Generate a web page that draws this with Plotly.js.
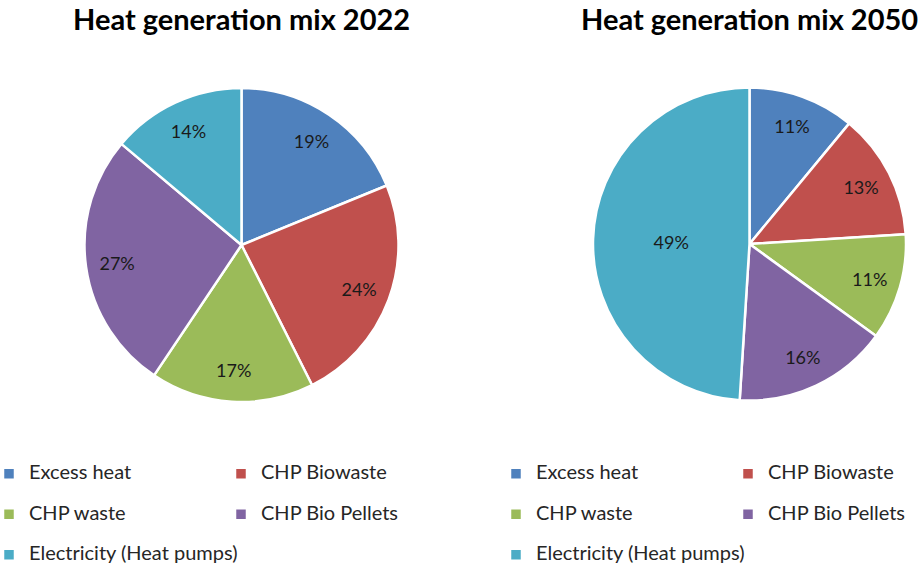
<!DOCTYPE html>
<html>
<head>
<meta charset="utf-8">
<script src="https://cdn.plot.ly/plotly-3.0.1.min.js"></script>
<style>html,body{margin:0;padding:0;background:#fff;}#chart{width:920px;height:568px;}</style>
</head>
<body>
<div id="chart"></div>
<script>
// ---- data ----
var categories = ["Excess heat", "CHP Biowaste", "CHP waste", "CHP Bio Pellets", "Electricity (Heat pumps)"];
var values2022 = [19, 24, 17, 27, 14];
var values2050 = [11, 13, 11, 16, 49];
var titles = ["Heat generation mix 2022", "Heat generation mix 2050"];
var colors = ["#4F81BD", "#C0504D", "#9BBB59", "#8064A2", "#4BACC6"];

var W = 920, H = 568;
var FONT = "Lato, 'Open Sans', sans-serif";
var PCT = "%{percent:.0%}";
// legend entries: bigger visible text, second blank line gives the row spacing
var legendLabels = categories.map(function (c) {
  return "<span style='font-size:20px'>" + c + "</span><br> ";
});

// label placement per slice: "ring" = outer ring (about 0.8 r), "core" = slice centre
var placement2022 = ["ring", "ring", "ring", "ring", "ring"];
var placement2050 = ["ring", "ring", "ring", "ring", "core"];

function pieTraces(values, placement, xd, yd, legendId, group) {
  var base = {
    type: "pie",
    labels: legendLabels,
    values: values,
    sort: false,
    direction: "clockwise",
    rotation: 0,
    domain: { x: xd, y: yd },
    marker: { colors: colors, line: { color: "#ffffff", width: 2.5 } },
    texttemplate: placement.map(function (p) { return p === "core" ? PCT : ""; }),
    textposition: "inside",
    insidetextorientation: "horizontal",
    textfont: { family: FONT, size: 18, color: "#1a1a1a" },
    hoverinfo: "label+percent",
    automargin: false,
    legend: legendId,
    legendgroup: group
  };
  // transparent ring carrying the outer labels
  var ring = {
    type: "pie",
    labels: legendLabels,
    values: values,
    sort: false,
    direction: "clockwise",
    rotation: 0,
    hole: 0.6,
    domain: { x: xd, y: yd },
    marker: { colors: colors.map(function () { return "rgba(0,0,0,0)"; }), line: { width: 0 } },
    texttemplate: placement.map(function (p) { return p === "ring" ? PCT : ""; }),
    textposition: "inside",
    insidetextorientation: "horizontal",
    textfont: { family: FONT, size: 18, color: "#1a1a1a" },
    hoverinfo: "skip",
    automargin: false,
    showlegend: false,
    legend: legendId,
    legendgroup: group + "r"
  };
  return [base, ring];
}

var data = []
  .concat(pieTraces(values2022, placement2022, [84 / W, 399 / W], [1 - 402 / H, 1 - 88 / H], "legend", "g2022"))
  .concat(pieTraces(values2050, placement2050, [593 / W, 906 / W], [1 - 401 / H, 1 - 87 / H], "legend2", "g2050"));

var legendBase = {
  orientation: "h",
  font: { family: FONT, size: 14.4, color: "#262626" },
  entrywidth: 187,
  entrywidthmode: "pixels",
  valign: "top",
  bgcolor: "rgba(0,0,0,0)",
  traceorder: "normal",
  yanchor: "top",
  y: 1 - 458 / H
};

var layout = {
  width: W,
  height: H,
  margin: { l: 0, r: 0, t: 0, b: 0, autoexpand: false },
  paper_bgcolor: "#ffffff",
  plot_bgcolor: "#ffffff",
  showlegend: true,
  legend: Object.assign({}, legendBase, { x: -11 / W, xanchor: "left" }),
  legend2: Object.assign({}, legendBase, { x: 960 / W, xanchor: "right" }),
  annotations: [
    { text: titles[0], x: 241 / W, y: 1 - 18.5 / H, xref: "paper", yref: "paper", xanchor: "center", yanchor: "middle",
      showarrow: false, font: { family: FONT, size: 29, weight: "bold", color: "#000000" } },
    { text: titles[1], x: 749 / W, y: 1 - 18.5 / H, xref: "paper", yref: "paper", xanchor: "center", yanchor: "middle",
      showarrow: false, font: { family: FONT, size: 29, weight: "bold", color: "#000000" } }
  ]
};

Plotly.newPlot("chart", data, layout, { displayModeBar: false, staticPlot: true });
</script>
</body>
</html>
